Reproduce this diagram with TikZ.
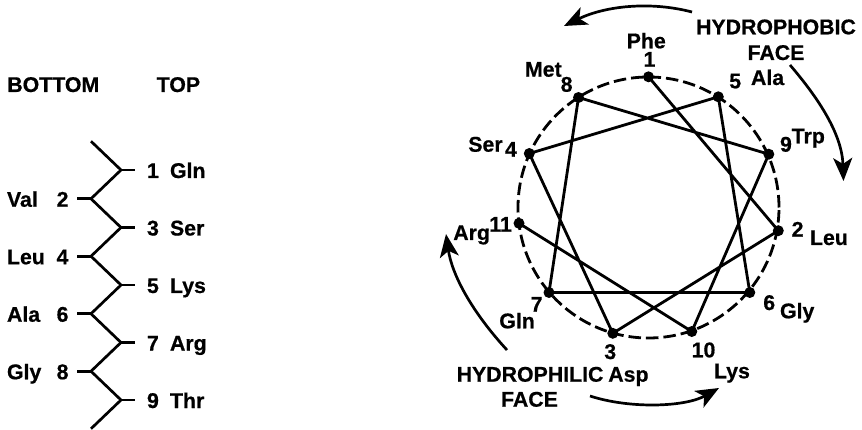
\documentclass[tikz,border=0pt]{standalone}
\usepackage{fontspec}
\setmainfont{Liberation Sans}
\newfontfamily\lblfont{Liberation Sans Bold}[FakeBold=0.6]
\usetikzlibrary{arrows.meta}
\begin{document}
\begin{tikzpicture}[x=1pt,y=-1pt,
  lbl/.style={inner sep=0pt, outer sep=0pt, font=\fontsize{21.3}{24}\lblfont},
  dot/.style={circle, fill=black, inner sep=0pt, minimum size=11pt},
  wheelline/.style={line width=2.8pt},
  ladder/.style={line width=2.7pt},
  wheelring/.style={line width=2.8pt, dash pattern=on 12.5pt off 5pt},
  facearrow/.style={line width=2.7pt, -{Stealth[length=23pt,width=19pt,inset=6pt]}}]
\useasboundingbox (0,0) rectangle (862,430);

% ---------------- ladder (left) ----------------
\node[lbl, anchor=base west] (bottom) at (7.3,92) {BOTTOM};
\node[lbl, anchor=base west] (top) at (156.7,92) {TOP};

\coordinate (z0) at (91,141.25);
\coordinate (z1) at (121,170);
\coordinate (z2) at (91,198.75);
\coordinate (z3) at (121,227.5);
\coordinate (z4) at (91,256.25);
\coordinate (z5) at (121,285);
\coordinate (z6) at (91,313.75);
\coordinate (z7) at (121,342.5);
\coordinate (z8) at (91,371.25);
\coordinate (z9) at (121,400);
\coordinate (z10) at (91,428.75);
\draw[ladder, line join=miter] (z0) -- (z1) -- (z2) -- (z3) -- (z4) -- (z5) -- (z6) -- (z7) -- (z8) -- (z9) -- (z10);

\foreach \k/\nm in {1/Gln,3/Ser,5/Lys,7/Arg,9/Thr}{
  \coordinate (t\k) at ([xshift=14pt]z\k);
  \draw[ladder] (z\k) -- (t\k);
  \node[lbl, anchor=base west] (rn\k) at ([shift={(147pt,-8pt)}]0,0 |- z\k) {\k};
  \node[lbl, anchor=base west] (rr\k) at ([shift={(170pt,-8pt)}]0,0 |- z\k) {\nm};
}
\foreach \k/\nm in {2/Val,4/Leu,6/Ala,8/Gly}{
  \coordinate (t\k) at ([xshift=-14pt]z\k);
  \draw[ladder] (z\k) -- (t\k);
  \node[lbl, anchor=base east] (ln\k) at ([shift={(68.5pt,-8pt)}]0,0 |- z\k) {\k};
  \node[lbl, anchor=base west] (lr\k) at ([shift={(7pt,-8pt)}]0,0 |- z\k) {\nm};
}

% ---------------- helical wheel (right) ----------------
\coordinate (c) at (648.5,207.5);
\draw[wheelring] (c) circle[radius=130.5pt];

\coordinate (q1) at (648.5,76.8);
\coordinate (q2) at (778.3,230.7);
\coordinate (q3) at (612.8,333.3);
\coordinate (q4) at (529.3,153.5);
\coordinate (q5) at (718.3,96.8);
\coordinate (q6) at (749.8,292.5);
\coordinate (q7) at (549,292.5);
\coordinate (q8) at (578.5,97.5);
\coordinate (q9) at (768.8,154.2);
\coordinate (q10) at (691.8,331.5);
\coordinate (q11) at (519,223.3);

\draw[wheelline, line join=round] (q1) -- (q2) -- (q3) -- (q4) -- (q5) -- (q6) -- (q7) -- (q8) -- (q9) -- (q10) -- (q11);
\foreach \k in {1,...,11}{ \node[dot] (p\k) at (q\k) {}; }

\node[lbl, anchor=base west] (phe) at (626.7,48.3) {Phe};
\node[lbl, anchor=base] (n1) at (649.5,66.7) {1};
\node[lbl, anchor=base west] (met) at (525,76.7) {Met};
\node[lbl, anchor=base west] (n8) at (560.7,91.7) {8};
\node[lbl, anchor=base west] (n5) at (729.3,88.3) {5};
\node[lbl, anchor=base west] (ala) at (751,85) {Ala};
\node[lbl, anchor=base west] (n9) at (780,151.7) {9};
\node[lbl, anchor=base west] (trp) at (791.7,143.3) {Trp};
\node[lbl, anchor=base west] (ser) at (468.3,151.7) {Ser};
\node[lbl, anchor=base west] (n4) at (505,156.7) {4};
\node[lbl, anchor=base west] (n11) at (489.3,231.7) {11};
\node[lbl, anchor=base west] (arg) at (453.3,240) {Arg};
\node[lbl, anchor=base west] (n2) at (791.7,236.7) {2};
\node[lbl, anchor=base west] (leu) at (810,245) {Leu};
\node[lbl, anchor=base west] (n6) at (763.3,310) {6};
\node[lbl, anchor=base west] (gly) at (780,318.3) {Gly};
\node[lbl, anchor=base west] (n7) at (530.7,311.7) {7};
\node[lbl, anchor=base west] (gln) at (499.3,328.3) {Gln};
\node[lbl, anchor=base west] (n3) at (604.3,359) {3};
\node[lbl, anchor=base west] (asp) at (608.3,381.7) {Asp};
\node[lbl, anchor=base west] (n10) at (691.7,357.3) {10};
\node[lbl, anchor=base west] (lys) at (714,378.3) {Lys};

\node[lbl, anchor=base] (hphob) at (776,34.3) {HYDROPHOBIC};
\node[lbl, anchor=base] (faceA) at (776,60) {FACE};
\node[lbl, anchor=base west] (hphil) at (456.7,381.7) {HYDROPHILIC};
\node[lbl, anchor=base] (faceB) at (529.5,406.7) {FACE};

% ---------------- face arrows ----------------
\coordinate (a1s) at (692,12);
\coordinate (a1e) at (564,26);
\coordinate (a2s) at (790,65);
\coordinate (a2e) at (843.5,181);
\coordinate (a3s) at (507,350);
\coordinate (a3e) at (446,234);
\coordinate (a4s) at (590,396);
\coordinate (a4e) at (719,388);
\draw[facearrow] (a1s) .. controls (650,1) and (605,6) .. (a1e);
\draw[facearrow] (a2s) .. controls (820,100) and (842,135) .. (a2e);
\draw[facearrow] (a3s) .. controls (472,312) and (452,275) .. (a3e);
\draw[facearrow] (a4s) .. controls (630,409) and (685,407) .. (a4e);
\end{tikzpicture}
\end{document}
